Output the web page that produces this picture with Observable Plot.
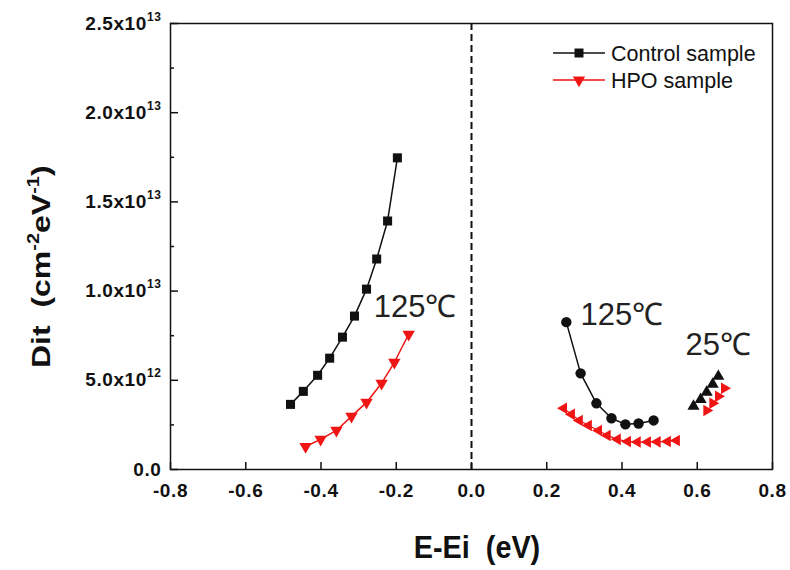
<!DOCTYPE html>
<html><head><meta charset="utf-8">
<script src="https://cdn.jsdelivr.net/npm/d3@7"></script>
<script src="https://cdn.jsdelivr.net/npm/@observablehq/plot@0.6"></script>
<style>body{margin:0;background:#fff}</style>
</head><body><div id="chart"></div>
<script>
// ---- data (E-Ei in eV, Dit in cm^-2 eV^-1) ----
const controlLeftX = [-0.481, -0.447, -0.409, -0.377, -0.343, -0.311, -0.279, -0.252, -0.223, -0.197];
const controlLeftY = [3.65e12, 4.38e12, 5.28e12, 6.24e12, 7.42e12, 8.6e12, 1.011e13, 1.18e13, 1.393e13, 1.747e13];
const hpoLeftX = [-0.441, -0.401, -0.359, -0.319, -0.279, -0.239, -0.205, -0.167];
const hpoLeftY = [1.29e12, 1.69e12, 2.19e12, 2.98e12, 3.76e12, 4.83e12, 6.01e12, 7.58e12];
const control125X = [0.252, 0.290, 0.332, 0.372, 0.409, 0.444, 0.484];
const control125Y = [8.26e12, 5.39e12, 3.71e12, 2.87e12, 2.53e12, 2.58e12, 2.75e12];
const hpo125X = [0.245, 0.266, 0.287, 0.311, 0.338, 0.361, 0.388, 0.415, 0.441, 0.468, 0.494, 0.521, 0.545];
const hpo125Y = [3.43e12, 3.09e12, 2.75e12, 2.47e12, 2.19e12, 1.91e12, 1.69e12, 1.57e12, 1.54e12, 1.54e12, 1.55e12, 1.57e12, 1.63e12];
const control25X = [0.590, 0.609, 0.625, 0.641, 0.656];
const control25Y = [3.54e12, 3.93e12, 4.33e12, 4.78e12, 5.22e12];
const hpo25X = [0.625, 0.641, 0.656, 0.672];
const hpo25Y = [3.31e12, 3.71e12, 4.10e12, 4.55e12];

const xTicks = [-0.8, -0.6, -0.4, -0.2, 0.0, 0.2, 0.4, 0.6, 0.8];
const yTicks = [0, 5e12, 1e13, 1.5e13, 2e13, 2.5e13];
const yTickLabels = ["0.0", "5.0x10^12", "1.0x10^13", "1.5x10^13", "2.0x10^13", "2.5x10^13"];
const yMinorTicks = [2.5e12, 7.5e12, 1.25e13, 1.75e13, 2.25e13];

const annotationText = ["125℃", "125℃", "25℃"];
const annotationX = [-0.260, 0.290, 0.569];
const annotationY = [9.10e12, 8.65e12, 6.97e12];

const legendLabels = ["Control sample", "HPO sample"];
const xTitle = "E-Ei  (eV)";

// ---- layout ----
const W = 790, H = 570, ML = 170, MR = 18, MT = 23, MB = 101;
const frameW = W - ML - MR, frameH = H - MT - MB;

// ---- build ----
const rows = (xs, ys) => xs.map((x, i) => ({x, y: ys[i]}));
const annotations = annotationText.map((t, i) => ({t, x: annotationX[i], y: annotationY[i]}));
const yLabelMap = new Map(yTicks.map((t, i) => [t, yTickLabels[i]]));

function tri(angle) {
  return {draw(ctx, size) {
    const R = 2 * Math.sqrt(size / (Math.sqrt(3) * 3));
    for (let k = 0; k < 3; k++) {
      const a = angle + k * 2 * Math.PI / 3;
      const px = R * Math.cos(a), py = R * Math.sin(a);
      if (k) ctx.lineTo(px, py); else ctx.moveTo(px, py);
    }
    ctx.closePath();
  }};
}
const triDown = tri(Math.PI / 2), triLeft = tri(Math.PI), triRight = tri(0), triUp = tri(-Math.PI / 2);

const BLACK = "#111", RED = "#f01515";
const font = "'Liberation Sans', Arial, Helvetica, sans-serif";

const plot = Plot.plot({
  width: W, height: H,
  marginLeft: ML, marginRight: MR, marginTop: MT, marginBottom: MB,
  style: {fontFamily: font, background: "#fff", overflow: "visible"},
  x: {domain: [-0.8, 0.8]},
  y: {domain: [0, 2.5e13]},
  marks: [
    Plot.ruleX([0], {stroke: BLACK, strokeWidth: 2, strokeDasharray: "7,4"}),
    Plot.axisX({ticks: xTicks, tickSize: 0, tickPadding: 14, tickFormat: d => d.toFixed(1),
      fontSize: 19, fontWeight: "bold", label: null, fill: BLACK}),
    Plot.axisY({ticks: yTicks, tickSize: 0, tickPadding: 9, tickFormat: d => yLabelMap.get(d),
      fontSize: 19, fontWeight: "bold", label: null, fill: BLACK}),
    // inward ticks
    Plot.ruleX(xTicks, {x: d => d, insetTop: frameH - 7, stroke: BLACK, strokeWidth: 1.5}),
    Plot.ruleY(yTicks, {y: d => d, insetRight: frameW - 8, stroke: BLACK, strokeWidth: 1.5}),
    Plot.ruleY(yMinorTicks, {y: d => d, insetRight: frameW - 4, stroke: BLACK, strokeWidth: 1.5}),
    Plot.frame({stroke: BLACK, strokeWidth: 1.5}),

    Plot.line(rows(controlLeftX, controlLeftY), {x: "x", y: "y", stroke: BLACK, strokeWidth: 1.5}),
    Plot.dot(rows(controlLeftX, controlLeftY), {x: "x", y: "y", symbol: "square", r: 5.1, fill: BLACK}),
    Plot.line(rows(hpoLeftX, hpoLeftY), {x: "x", y: "y", stroke: RED, strokeWidth: 1.5}),
    Plot.dot(rows(hpoLeftX, hpoLeftY), {x: "x", y: "y", symbol: triDown, r: 4.6, fill: RED}),

    Plot.line(rows(control125X, control125Y), {x: "x", y: "y", stroke: BLACK, strokeWidth: 1.5}),
    Plot.line(rows(hpo125X, hpo125Y), {x: "x", y: "y", stroke: RED, strokeWidth: 1.2}),
    Plot.dot(rows(hpo125X, hpo125Y), {x: "x", y: "y", symbol: triLeft, r: 4.3, fill: RED}),
    Plot.dot(rows(control125X, control125Y), {x: "x", y: "y", r: 5.2, fill: BLACK}),

    Plot.dot(rows(control25X, control25Y), {x: "x", y: "y", symbol: triUp, r: 4.5, fill: BLACK}),
    Plot.dot(rows(hpo25X, hpo25Y), {x: "x", y: "y", symbol: triRight, r: 4.3, fill: RED}),

    Plot.text(annotations, {x: "x", y: "y", text: "t", textAnchor: "start", fontSize: 31, fill: "#222"})
  ]
});

const svg = d3.select(plot);
svg.selectAll('g[aria-label="x-axis tick label"] text, g[aria-label="y-axis tick label"] text').attr("letter-spacing", 0.6);
// superscripts on y tick labels
svg.selectAll('g[aria-label="y-axis tick label"] text').each(function () {
  const s = this.textContent;
  if (s.includes("^")) {
    const [base, exp] = s.split("^");
    const t = d3.select(this);
    t.text(null);
    t.append("tspan").text(base);
    t.append("tspan").attr("dy", -9).attr("font-size", 12).text(exp);
  }
});

// legend
const leg = svg.append("g").attr("font-family", font).attr("text-anchor", "start");
const legItems = [{label: legendLabels[0], color: BLACK, sym: d3.symbolSquare, size: 81}, {label: legendLabels[1], color: RED, sym: triDown, size: 66}];
legItems.forEach((it, i) => {
  const yy = 53 + i * 27;
  leg.append("line").attr("x1", 553).attr("x2", 605).attr("y1", yy).attr("y2", yy).attr("stroke", it.color).attr("stroke-width", 1.5);
  leg.append("path").attr("d", d3.symbol(it.sym, it.size)()).attr("transform", `translate(579,${yy})`).attr("fill", it.color);
  leg.append("text").attr("x", 611).attr("y", yy).attr("dy", "0.35em").attr("font-size", 21.5).attr("fill", "#111").text(it.label);
});

// axis titles
svg.append("text").attr("transform", "translate(477,558) scale(0.9,1)").attr("text-anchor", "middle")
  .attr("font-family", font).attr("font-size", 32).attr("font-weight", "bold").attr("fill", "#111").text(xTitle);
const yt = svg.append("text").attr("transform", "translate(50,368) scale(0.82,1) rotate(-90)").attr("text-anchor", "start")
  .attr("font-family", font).attr("font-size", 32).attr("font-weight", "bold").attr("fill", "#111");
yt.append("tspan").text("Dit  (cm");
yt.append("tspan").attr("dy", -13).attr("font-size", 20).text("-2");
yt.append("tspan").attr("dy", 13).text("eV");
yt.append("tspan").attr("dy", -13).attr("font-size", 20).text("-1");
yt.append("tspan").attr("dy", 13).text(")");

document.getElementById("chart").appendChild(plot);
</script>
</body></html>
